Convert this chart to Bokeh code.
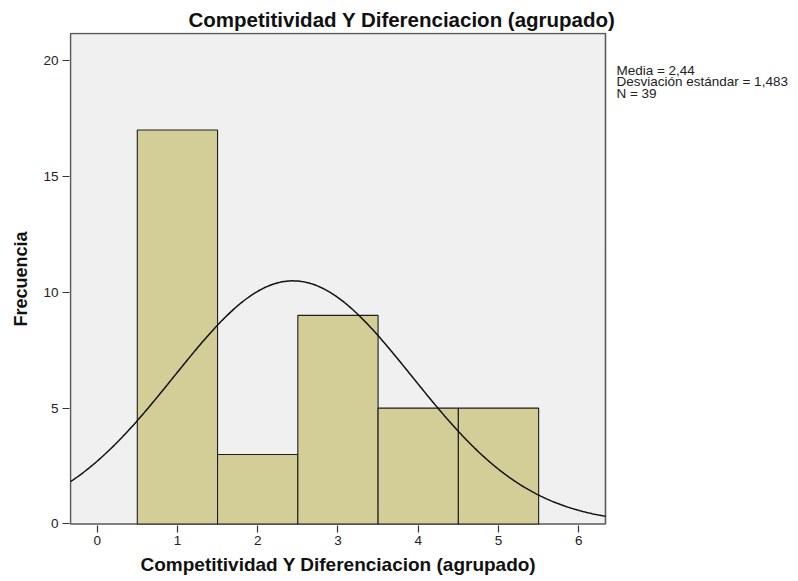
import numpy as np
from bokeh.plotting import figure
from bokeh.models import FixedTicker, Range1d, Title
from bokeh.core.properties import value
from bokeh.embed import file_html
from bokeh.resources import INLINE

# ---- data ----
categories = [1, 2, 3, 4, 5]
counts = [17, 3, 9, 5, 5]
mean_val = 2.44
sd_val = 1.483
n_val = 39
x_ticks = [0, 1, 2, 3, 4, 5, 6]
y_ticks = [0, 5, 10, 15, 20]
title_text = "Competitividad Y Diferenciacion (agrupado)"
ylabel_text = "Frecuencia"
stats_lines = ["Media = 2,44", "Desviación estándar = 1,483", "N = 39"]

# ---- layout constants ----
FONT = "Liberation Sans"
X_LO, X_HI = -0.332, 6.333      # visible data window of the histogram box
Y_LO, Y_HI = 0.0, 21.165
PX_X = 80.27                    # px per x unit
PX_Y = 23.175                   # px per y unit
W, H = 798, 581
LEFT, TOP, BOTTOM = 69, 32, 56

x_start = X_LO - 1.0 / PX_X
x_end = x_start + (W - LEFT) / PX_X
y_end = Y_HI + 1.0 / PX_Y
frame_h = H - TOP - BOTTOM
y_start = y_end - frame_h / PX_Y

p = figure(width=W, height=H, output_backend="svg", toolbar_location=None,
           x_range=Range1d(x_start, x_end), y_range=Range1d(y_start, y_end),
           min_border_left=LEFT, min_border_right=0, min_border_top=TOP,
           min_border_bottom=BOTTOM)

p.title.text = title_text
p.title.align = "left"
p.title.offset = 119
p.title.text_font = FONT
p.title.text_font_size = "20.5px"
p.title.text_font_style = "bold"
p.title.text_color = "#111111"
p.title.standoff = 4

p.background_fill_color = "white"
p.border_fill_color = "white"
p.outline_line_color = None
p.xgrid.visible = False
p.ygrid.visible = False

# plot box
p.quad(left=[X_LO], right=[X_HI], bottom=[Y_LO], top=[Y_HI],
       fill_color="#f0f0f0", line_color="#5a5a5a", line_width=1.6)

# histogram bars
left = [c - 0.5 for c in categories]
right = [c + 0.5 for c in categories]
p.quad(left=left, right=right, bottom=0, top=counts, fill_color="#d3ce97",
       line_color="#1e1e1e", line_width=1.1)

# normal curve
xs = np.linspace(X_LO, X_HI, 400)
ys = n_val / (sd_val * np.sqrt(2 * np.pi)) * np.exp(-0.5 * ((xs - mean_val) / sd_val) ** 2)
p.line(xs, ys, line_color="#111111", line_width=1.5)

# axes
for ax in (p.xaxis[0], p.yaxis[0]):
    ax.axis_line_color = None
    ax.major_tick_line_color = "#333333"
    ax.major_tick_line_width = 1.2
    ax.major_tick_in = 0
    ax.major_tick_out = 7
    ax.minor_tick_line_color = None
    ax.major_label_text_font = FONT
    ax.major_label_text_font_size = "13.5px"
    ax.major_label_text_color = "#222222"
    ax.axis_label_text_font = FONT
    ax.axis_label_text_font_size = "18px"
    ax.axis_label_text_font_style = "bold"
    ax.axis_label_text_color = "#111111"

p.xaxis.ticker = FixedTicker(ticks=x_ticks)
p.yaxis.ticker = FixedTicker(ticks=y_ticks)
p.yaxis.axis_label = ylabel_text
p.xaxis.major_label_standoff = 3
p.yaxis.major_label_standoff = 4
p.yaxis.axis_label_standoff = 9

# x axis title (left-aligned so it stays centred on the histogram box)
p.add_layout(Title(text=title_text, align="left", offset=71, text_font=FONT,
                   text_font_size="19px", text_font_style="bold",
                   text_color="#111111", standoff=8), "below")

# statistics text
sx = [6.469] * len(stats_lines)
sy = [19.57 - 0.496 * i for i in range(len(stats_lines))]
p.text(x=sx, y=sy, text=stats_lines, text_font=value(FONT), text_font_size="13.5px",
       text_color="#222222", text_baseline="alphabetic", text_align="left")

open("out.html", "w").write(file_html(p, INLINE))
